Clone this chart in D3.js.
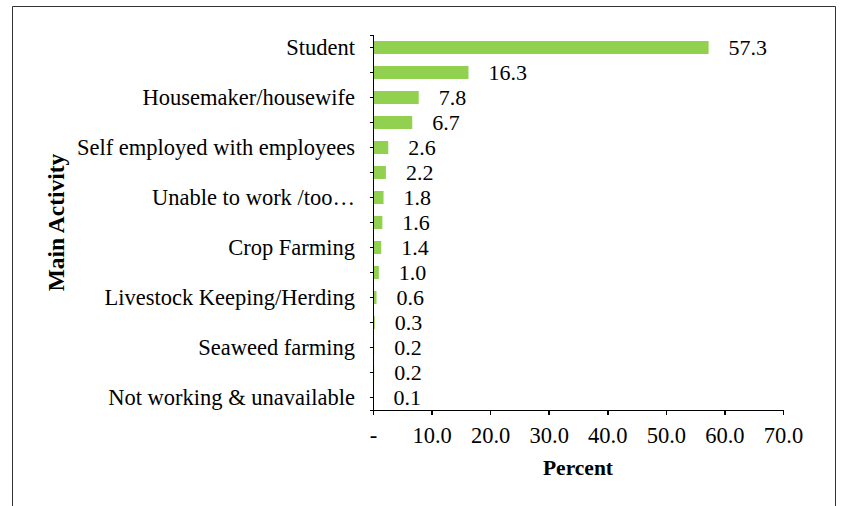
<!DOCTYPE html>
<meta charset="utf-8">
<style>
body { margin: 0; background: #fff; }
text { font-family: "Liberation Serif", "Times New Roman", serif; fill: #000; }
.axis path, .axis line { stroke: #000; stroke-width: 1.5px; shape-rendering: crispEdges; }
</style>
<svg></svg>
<script src="https://d3js.org/d3.v7.min.js"></script>
<script>

// data (labels hidden in the original are blank)
var categories = ["Student", "", "Housemaker/housewife", "", "Self employed with employees", "",
  "Unable to work /too\u2026", "", "Crop Farming", "", "Livestock Keeping/Herding", "",
  "Seaweed farming", "", "Not working & unavailable"];
var values = [57.3, 16.3, 7.8, 6.7, 2.6, 2.2, 1.8, 1.6, 1.4, 1.0, 0.6, 0.3, 0.2, 0.2, 0.1];
var xTicks = [0, 10, 20, 30, 40, 50, 60, 70];

var width = 842, height = 506;
var svg = d3.select("svg").attr("width", width).attr("height", height);

// outer frame (open at the bottom)
svg.append("path")
  .attr("d", "M12.5," + height + "V6.5H835.5V" + height)
  .attr("fill", "none")
  .attr("stroke", "#333")
  .attr("stroke-width", 1);

var plotL = 373, plotR = 783, plotT = 35, plotB = 410;

var x = d3.scaleLinear().domain([0, 70]).range([plotL, plotR]);
var y = d3.scaleBand().domain(d3.range(categories.length)).range([plotT, plotB]).paddingInner(0.48).paddingOuter(0.24);

// bars
svg.append("g").selectAll("rect")
  .data(values)
  .enter().append("rect")
  .attr("x", x(0))
  .attr("y", function(d, i) { return y(i); })
  .attr("width", function(d) { return x(d) - x(0); })
  .attr("height", y.bandwidth())
  .attr("fill", "#92d050");

// value labels
svg.append("g").selectAll("text")
  .data(values)
  .enter().append("text")
  .attr("x", function(d) { return x(d) + 20; })
  .attr("y", function(d, i) { return y(i) + y.bandwidth() / 2; })
  .attr("dy", "0.35em")
  .style("font-size", "22px")
  .text(function(d) { return d.toFixed(1); });

// y axis
var yAxis = d3.axisLeft(y)
  .tickSize(3)
  .tickSizeOuter(3)
  .tickPadding(15)
  .tickFormat(function(i) { return categories[i]; });

var yg = svg.append("g").attr("class", "axis")
  .attr("transform", "translate(" + plotL + ",0)")
  .call(yAxis);
yg.selectAll("text").style("font-size", "22.5px").attr("dy", "0.33em");

// x axis
var xAxis = d3.axisBottom(x)
  .tickValues(xTicks)
  .tickSize(5)
  .tickSizeOuter(0)
  .tickPadding(12)
  .tickFormat(function(d) { return d === 0 ? "-" : d.toFixed(1); });

var xg = svg.append("g").attr("class", "axis")
  .attr("transform", "translate(0," + plotB + ")")
  .call(xAxis);
xg.selectAll("text").style("font-size", "22.5px");

// axis titles
svg.append("text")
  .attr("x", (plotL + plotR) / 2)
  .attr("y", 475)
  .attr("text-anchor", "middle")
  .style("font-size", "21.5px")
  .style("font-weight", "bold")
  .text("Percent");

svg.append("text")
  .attr("transform", "translate(64," + (plotT + plotB) / 2 + ") rotate(-90)")
  .attr("text-anchor", "middle")
  .style("font-size", "23.5px")
  .style("font-weight", "bold")
  .text("Main Activity");

</script>
